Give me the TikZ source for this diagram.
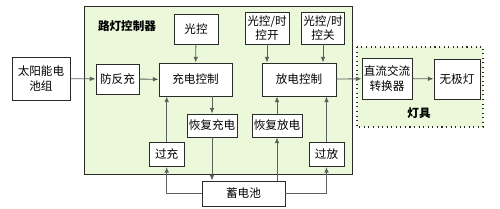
\documentclass[tikz,border=0pt]{standalone}
\usepackage{fontspec}
\setmainfont{Noto Sans CJK SC}
\usepackage{tikz}
\usetikzlibrary{positioning, arrows.meta, calc}
\usepackage{xcolor}
\definecolor{ctrlbg}{HTML}{EBF9DA}
\definecolor{wiregray}{HTML}{5A625A}
\definecolor{boxline}{HTML}{2A2A2A}

\tikzset{
  blk/.style={draw=boxline, fill=white, align=center, inner sep=1pt, line width=0.5pt},
  wire/.style={draw=wiregray, line width=0.5pt, -{Latex[length=3.2pt, width=2.6pt]}},
}

\begin{document}
\begin{tikzpicture}[x=0.02cm, y=-0.02cm, font=\fontsize{6.6}{8.2}\selectfont]
\useasboundingbox (0,0) rectangle (500,209);
% controller and lamp frames
\filldraw[fill=ctrlbg, draw=boxline, line width=0.5pt] (84,6) rectangle (352,174);
\filldraw[fill=ctrlbg, draw=boxline, line width=0.6pt, dotted] (357,47) rectangle (483,127);
\node[font=\fontsize{6.6}{8}\selectfont\bfseries] (ctrltitle) at (127,26) {路灯控制器};
\node[font=\fontsize{6.6}{8}\selectfont\bfseries] (lamptitle) at (419,113) {灯具};

% blocks
\node[blk, minimum width=1.16cm, minimum height=0.86cm] (solar) at (41,78.5) {太阳能电\\池组};
\node[blk, minimum width=0.86cm, minimum height=0.6cm] (anti) at (117.5,79) {防反充};
\node[blk, minimum width=0.88cm, minimum height=0.6cm] (light) at (196,29) {光控};
\node[blk, minimum width=1.46cm, minimum height=0.66cm] (charge) at (195.5,79.5) {充电控制};
\node[blk, minimum width=0.88cm, minimum height=0.64cm] (swon) at (267,28) {光控/时\\控开};
\node[blk, minimum width=0.84cm, minimum height=0.64cm] (swoff) at (323,28) {光控/时\\控关};
\node[blk, minimum width=1.48cm, minimum height=0.66cm] (discharge) at (299,79.5) {放电控制};
\node[blk, minimum width=1.0cm, minimum height=0.82cm] (inverter) at (387,78.5) {直流交流\\转换器};
\node[blk, minimum width=0.92cm, minimum height=0.8cm] (lamp) at (457,79) {无极灯};
\node[blk, minimum width=1.0cm, minimum height=0.46cm] (rechg) at (212,125.5) {恢复充电};
\node[blk, minimum width=1.0cm, minimum height=0.46cm] (redis) at (277,125.5) {恢复放电};
\node[blk, minimum width=0.7cm, minimum height=0.48cm] (overchg) at (166.7,154.5) {过充};
\node[blk, minimum width=0.7cm, minimum height=0.48cm] (overdis) at (326.5,154.5) {过放};
\node[blk, minimum width=1.66cm, minimum height=0.5cm] (battery) at (243.5,193.5) {蓄电池};

% charging side
\draw[wire] (solar) -- (anti);
\draw[wire] (anti) -- (charge);
\draw[wire] (light) -- (charge);
\draw[wire] (charge.south -| rechg) -- (rechg);
\draw[wire] (rechg) -- (rechg |- battery.north);
\draw[wire] (overchg) -- (overchg |- charge.south);
\draw[wire] (battery.west) -| (overchg.south);

% discharging side
\draw[wire] (swon) -- (swon |- discharge.north);
\draw[wire] (swoff) -- (swoff |- discharge.north);
\draw[wire] (redis) -- (redis |- discharge.south);
\draw[wire] (battery.north -| redis) -- (redis);
\draw[wire] (overdis) -- (overdis |- discharge.south);
\draw[wire] (battery.east) -| (overdis.south);
\draw[wire] (discharge) -- (inverter);
\draw[wire] (inverter) -- (lamp);
\end{tikzpicture}
\end{document}
